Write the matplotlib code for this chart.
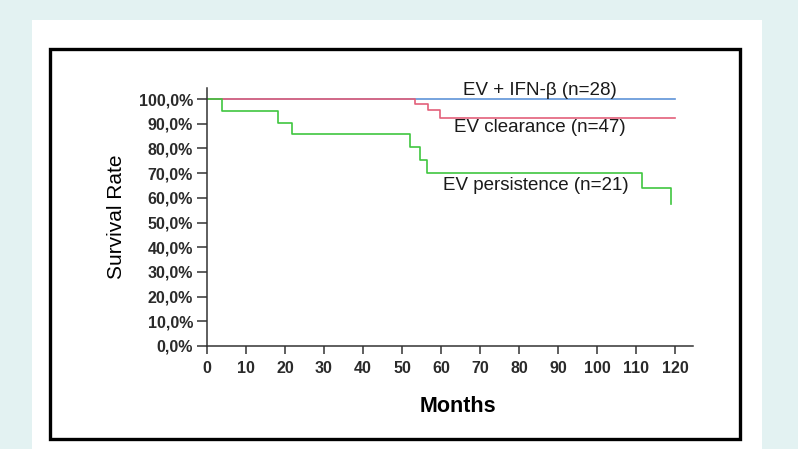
import matplotlib
matplotlib.use("Agg")
import matplotlib.pyplot as plt
from matplotlib.patches import Rectangle

plt.rcParams["font.family"] = ["Liberation Sans", "DejaVu Sans"]

# Kaplan-Meier steps (months, survival %)
ifn_t = [0, 120]
ifn_s = [100, 100]
clear_t = [0, 53.3, 56.6, 59.7, 120]
clear_s = [100, 97.9, 95.7, 92.3, 92.3]
pers_t = [0, 3.8, 18.2, 21.8, 52.0, 54.6, 56.3, 111.4, 118.9, 119.0]
pers_s = [100, 95.2, 90.5, 85.7, 80.5, 75.5, 70.0, 64.0, 57.5, 57.5]

labels = ["EV + IFN-β (n=28)", "EV clearance (n=47)", "EV persistence (n=21)"]
label_xy = [(85.4, 103.6), (85.4, 88.7), (84.4, 65.2)]

xticks = list(range(0, 121, 10))
yticks = list(range(0, 101, 10))

W, H = 798, 449
fig = plt.figure(figsize=(W / 100, H / 100), dpi=100, facecolor="#e3f2f2")
# white panel and black frame
fig.patches.append(Rectangle((32 / W, 0), (762 - 32) / W, (H - 20) / H,
                             transform=fig.transFigure, facecolor="white",
                             edgecolor="none", zorder=0))
fig.patches.append(Rectangle((50 / W, (H - 439) / H), (740 - 50) / W, (439 - 49) / H,
                             transform=fig.transFigure, facecolor="none",
                             edgecolor="black", lw=2.4, zorder=1))

ax = fig.add_axes([207 / W, (H - 346) / H, (693 - 207) / W, (346 - 88) / H])
ax.set_zorder(5)
ax.set_facecolor("none")

ax.step(ifn_t, ifn_s, where="post", color="#5f93d8", lw=1.2)
ax.step(clear_t, clear_s, where="post", color="#e3607a", lw=1.2)
ax.step(pers_t, pers_s, where="post", color="#3fc63f", lw=1.2)

for txt, (x, y) in zip(labels, label_xy):
    ax.text(x, y, txt, ha="center", va="center", fontsize=13.5, color="#1a1a1a")

ax.set_xlim(0, 124.6)
ax.set_ylim(0, 104.5)
ax.set_xticks(xticks)
ax.set_yticks(yticks)
ax.set_yticklabels([f"{v},0%" for v in yticks])
for s in ["top", "right"]:
    ax.spines[s].set_visible(False)
for s in ["left", "bottom"]:
    ax.spines[s].set_color("#333333")
    ax.spines[s].set_linewidth(1.1)
ax.tick_params(axis="y", length=7, width=1.1, pad=3, color="#333333",
               labelsize=11.5, labelcolor="#2a2a2a")
ax.tick_params(axis="x", length=6, width=1.1, pad=5, color="#333333",
               labelsize=11.5, labelcolor="#2a2a2a")
for lab in ax.get_xticklabels() + ax.get_yticklabels():
    lab.set_fontweight("bold")

ax.set_xlabel("Months", fontsize=15.5, fontweight="bold")
ax.set_ylabel("Survival Rate", fontsize=15)
ax.xaxis.set_label_coords(0.516, -0.194)
ax.yaxis.set_label_coords(-0.166, 0.5)

fig.savefig("out.png", dpi=100, facecolor=fig.get_facecolor())
